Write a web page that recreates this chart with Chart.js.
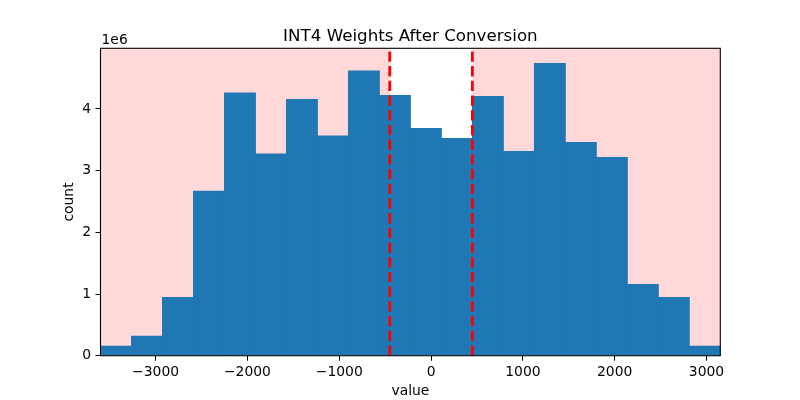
<!DOCTYPE html>
<html>
<head>
<meta charset="utf-8">
<script src="https://cdn.jsdelivr.net/npm/chart.js@4"></script>
<style>
  html, body { margin: 0; padding: 0; background: #fff; }
  canvas { display: block; }
</style>
</head>
<body>
<canvas id="chart" width="800" height="400"></canvas>
<script>
// histogram bins (centres) and counts in millions
const binCenters = [-3431.25, -3093.75, -2756.25, -2418.75, -2081.25, -1743.75, -1406.25, -1068.75, -731.25, -393.75,
                    -56.25, 281.25, 618.75, 956.25, 1293.75, 1631.25, 1968.75, 2306.25, 2643.75, 2981.25];
const countsM = [0.162, 0.324, 0.951, 2.676, 4.265, 3.276, 4.162, 3.568, 4.622, 4.227,
                 3.692, 3.530, 4.211, 3.319, 4.746, 3.465, 3.222, 1.162, 0.951, 0.162];
const xRange = [-3600, 3150];
const xTicks = [-3000, -2000, -1000, 0, 1000, 2000, 3000];
const yTicks = [0, 1e6, 2e6, 3e6, 4e6];
const thresholds = [-450, 450];
// shaded outside-threshold regions
const spans = [[-3600, -450], [450, 3150]];
const titleText = 'INT4 Weights After Conversion';

const yMax = Math.max(...countsM) * 1e6 * 1.05;
const font = "'DejaVu Sans', sans-serif";

const decor = {
  id: 'decor',
  beforeDatasetsDraw(chart) {
    const {ctx, chartArea, scales} = chart;
    ctx.save();
    ctx.fillStyle = 'rgba(255,0,0,0.15)';
    spans.forEach(([a, b]) => {
      const x1 = scales.x.getPixelForValue(a);
      const x2 = scales.x.getPixelForValue(b);
      ctx.fillRect(x1, chartArea.top, x2 - x1, chartArea.bottom - chartArea.top);
    });
    ctx.restore();
  },
  afterDraw(chart) {
    const {ctx, chartArea} = chart;
    ctx.save();
    ctx.strokeStyle = '#000';
    ctx.lineWidth = 1.1;
    ctx.strokeRect(chartArea.left, chartArea.top, chartArea.right - chartArea.left, chartArea.bottom - chartArea.top);
    ctx.fillStyle = '#000';
    ctx.textBaseline = 'alphabetic';
    // offset text
    ctx.font = '13.9px ' + font;
    ctx.textAlign = 'left';
    ctx.fillText('1e6', chartArea.left + 1, chartArea.top - 4.3);
    // title
    ctx.font = '16.7px ' + font;
    ctx.textAlign = 'center';
    ctx.fillText(titleText, (chartArea.left + chartArea.right) / 2, chartArea.top - 7.6);
    ctx.restore();
  }
};

const lineSets = thresholds.map(t => ({
  type: 'line',
  order: 1,
  data: [{x: t, y: 0}, {x: t, y: yMax}],
  borderColor: 'red',
  borderWidth: 2.8,
  borderDash: [10.3, 4.4],
  pointRadius: 0,
  fill: false
}));

new Chart(document.querySelector('#chart').getContext('2d'), {
  type: 'bar',
  data: {
    datasets: [
      {
        order: 2,
        data: binCenters.map((c, i) => ({x: c, y: countsM[i] * 1e6})),
        backgroundColor: '#1f77b4',
        borderWidth: 0,
        barPercentage: 1.03,
        categoryPercentage: 1
      },
      ...lineSets
    ]
  },
  options: {
    responsive: false,
    animation: false,
    devicePixelRatio: 1,
    layout: { padding: { left: 0, right: 79.7, top: 48.3, bottom: 0 } },
    plugins: {
      legend: { display: false },
      tooltip: { enabled: false },
      title: { display: false }
    },
    scales: {
      x: {
        type: 'linear',
        min: xRange[0],
        max: xRange[1],
        offset: false,
        afterBuildTicks: s => { s.ticks = xTicks.map(v => ({value: v})); },
        afterFit: s => { s.height = 44.3; },
        grid: { display: true, offset: false, drawOnChartArea: false, drawTicks: true, tickLength: 5, color: '#000', lineWidth: 1 },
        border: { display: false },
        ticks: {
          color: '#000',
          padding: 3,
          maxRotation: 0,
          font: { family: font, size: 13.9 },
          callback: v => v < 0 ? '\u2212' + Math.abs(v) : String(v)
        },
        title: { display: true, text: 'value', color: '#000', padding: 0, font: { family: font, size: 13.9 } }
      },
      y: {
        min: 0,
        max: yMax,
        afterBuildTicks: s => { s.ticks = yTicks.map(v => ({value: v})); },
        afterFit: s => { s.width = 100.5; },
        grid: { display: true, drawOnChartArea: false, drawTicks: true, tickLength: 5, color: '#000', lineWidth: 1 },
        border: { display: false },
        ticks: {
          color: '#000',
          padding: 4.5,
          font: { family: font, size: 13.9 },
          callback: v => String(v / 1e6)
        },
        title: { display: true, text: 'count', color: '#000', padding: { top: 61, bottom: 0 }, font: { family: font, size: 13.9 } }
      }
    }
  },
  plugins: [decor]
});
</script>
</body>
</html>
